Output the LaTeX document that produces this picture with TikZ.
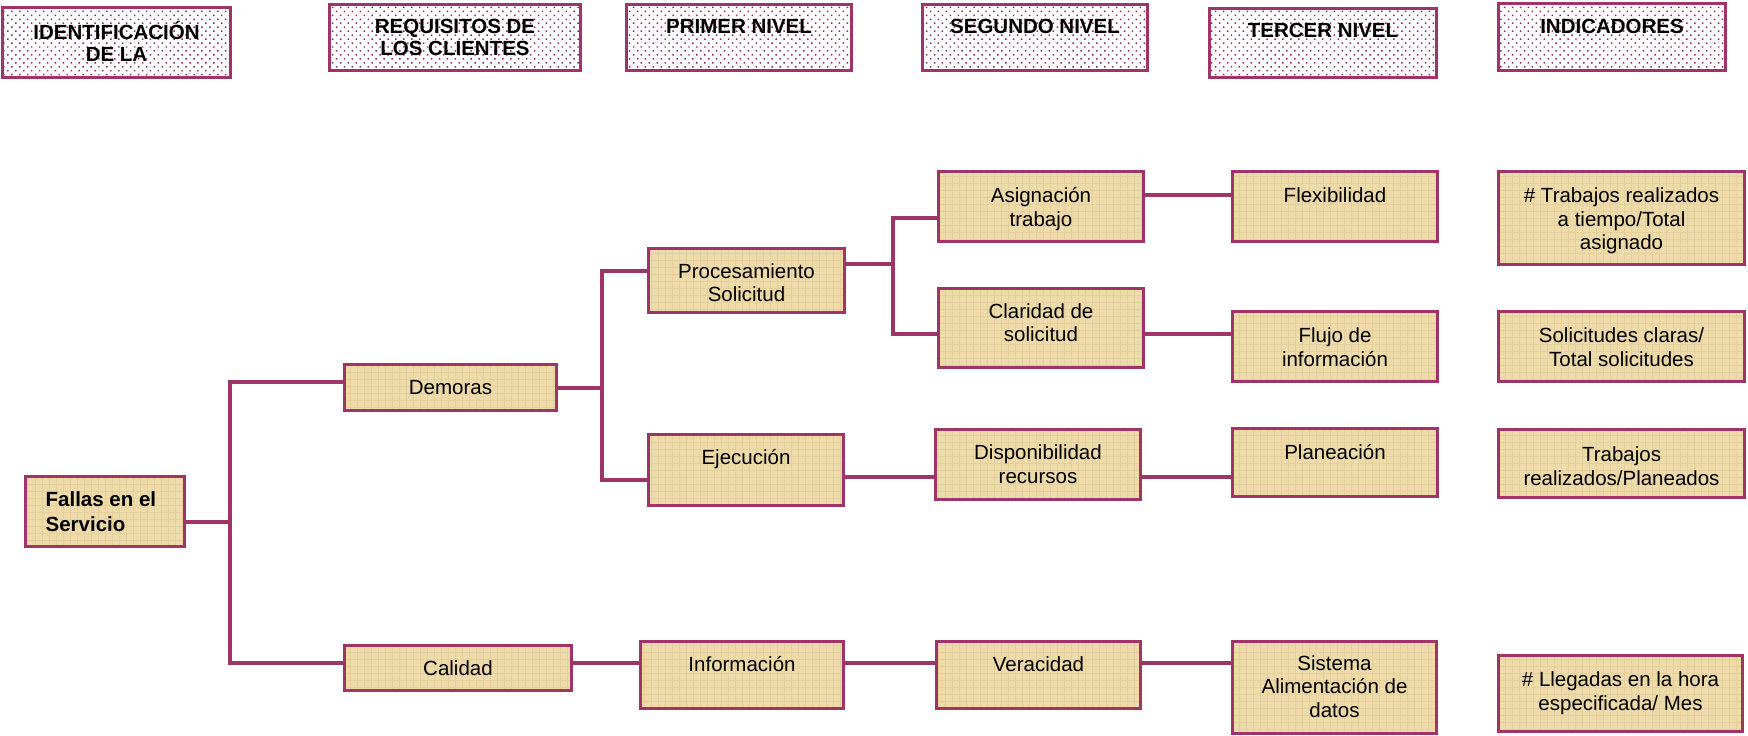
\documentclass[tikz,border=0pt]{standalone}
\usepackage{fontspec}
\setmainfont{Liberation Sans}
\usetikzlibrary{patterns.meta}

\definecolor{rim}{RGB}{158,52,104}
\definecolor{papyrus}{RGB}{237,219,170}
\definecolor{papyrusdark}{RGB}{229,208,156}
\definecolor{dotred}{RGB}{150,42,78}

\tikzset{
  cellbase/.style={draw=rim, line width=3.3pt, inner sep=0pt, outer sep=0pt},
  body/.style={cellbase, preaction={fill=papyrus},
    pattern={Hatch[distance=7pt, angle=0, line width=0.5pt]}, pattern color=papyrusdark,
    font=\fontsize{20.5}{23.5}\selectfont},
  lead/.style={body, font=\bfseries\fontsize{20.5}{25}\selectfont},
  head/.style={cellbase, preaction={fill=white},
    pattern={Dots[distance=5.6pt, angle=45, radius=1.05pt]}, pattern color=dotred,
    font=\bfseries\fontsize{20.5}{22}\selectfont},
  conn/.style={draw=rim, line width=3.3pt},
}

% #1 name, #2 style, #3/#4 outer top-left, #5/#6 outer bottom-right, #7 content
\newcommand\cellnode[7]{%
  \node[#2, anchor=north west] (#1) at ({#3+1.65},{#4+1.65})
    {\parbox[c][\dimexpr #6pt-#4pt-3.3pt\relax][t]{\dimexpr #5pt-#3pt-3.3pt\relax}{#7}};}
% first line raised to a given baseline offset
\newcommand\firstline[1]{\rule{0pt}{#1pt}}

\begin{document}
\begin{tikzpicture}[x=1pt, y=-1pt]
\useasboundingbox (0,0) rectangle (1748,736);

% column headers
\cellnode{hd1}{head}{1}{6}{232}{79}{\centering\firstline{32}IDENTIFICACIÓN\\DE LA}
\cellnode{hd2}{head}{328}{3}{582}{72}{\centering\firstline{28.5}REQUISITOS DE\\LOS CLIENTES}
\cellnode{hd3}{head}{625}{3}{853}{72}{\centering\firstline{28.5}PRIMER NIVEL}
\cellnode{hd4}{head}{921}{3}{1149}{72}{\centering\firstline{28.5}SEGUNDO NIVEL}
\cellnode{hd5}{head}{1208}{7}{1438}{79}{\centering\firstline{28.5}TERCER NIVEL}
\cellnode{hd6}{head}{1497}{2}{1727}{72}{\centering\firstline{29.5}INDICADORES}

% root
\cellnode{fallas}{lead}{24}{475}{186}{548}{\raggedright\leftskip=20pt\firstline{29.5}Fallas en el\\Servicio}

% customer requirements
\cellnode{dem}{body}{343}{363}{558}{412}{\centering\firstline{30.3}Demoras}
\cellnode{cal}{body}{343}{644}{573}{692}{\centering\firstline{29.5}Calidad}

% first level
\cellnode{proc}{body}{647}{247}{846}{314}{\centering\firstline{29.5}Procesamiento\\Solicitud}
\cellnode{ejec}{body}{647}{433}{845}{507}{\centering\firstline{29.5}Ejecución}
\cellnode{info}{body}{639}{640}{845}{710}{\centering\firstline{29.5}Información}

% second level
\cellnode{asig}{body}{937}{170}{1145}{243}{\centering\firstline{31.3}Asignación\\trabajo}
\cellnode{clar}{body}{937}{287}{1145}{369}{\centering\firstline{29.5}Claridad de\\solicitud}
\cellnode{disp}{body}{934}{428}{1142}{501}{\centering\firstline{30.3}Disponibilidad\\recursos}
\cellnode{verac}{body}{935}{640}{1142}{710}{\centering\firstline{29.5}Veracidad}

% third level
\cellnode{flex}{body}{1231}{170}{1439}{243}{\centering\firstline{31.3}Flexibilidad}
\cellnode{flujo}{body}{1231}{310}{1439}{383}{\centering\firstline{31.3}Flujo de\\información}
\cellnode{plan}{body}{1231}{427}{1439}{498}{\centering\firstline{31.3}Planeación}
\cellnode{sist}{body}{1231}{640}{1438}{735}{\centering\firstline{28.5}Sistema\\Alimentación de\\datos}

% indicators
\cellnode{ind1}{body}{1497}{170}{1746}{266}{\centering\firstline{31.3}\# Trabajos realizados\\a tiempo/Total\\asignado}
\cellnode{ind2}{body}{1497}{310}{1746}{383}{\centering\firstline{31.3}Solicitudes claras/\\Total solicitudes}
\cellnode{ind3}{body}{1497}{428}{1746}{499}{\centering\firstline{32.3}Trabajos\\realizados/Planeados}
\cellnode{ind4}{body}{1497}{654}{1744}{733}{\centering\firstline{31.3}\# Llegadas en la hora\\especificada/ Mes}

% bus from the root
\coordinate (a0) at (230,522);
\coordinate (a1) at (230,382);
\coordinate (a2) at (230,663);
\draw[conn] (fallas.east |- a0) -- (a0);
\draw[conn] (dem.west |- a1) -- (a1) -- (a2) -- (cal.west |- a2);

% bus from Demoras
\coordinate (b0) at (602,388);
\coordinate (b1) at (602,271);
\coordinate (b2) at (602,480);
\draw[conn] (dem.east |- b0) -- (b0);
\draw[conn] (proc.west |- b1) -- (b1) -- (b2) -- (ejec.west |- b2);

% bus from Procesamiento
\coordinate (c0) at (893,264);
\coordinate (c1) at (893,218);
\coordinate (c2) at (893,334);
\draw[conn] (proc.east |- c0) -- (c0);
\draw[conn] (asig.west |- c1) -- (c1) -- (c2) -- (clar.west |- c2);

% straight links
\coordinate (r1) at (0,195);
\coordinate (r2) at (0,334);
\coordinate (r3) at (0,477);
\coordinate (r4) at (0,663);
\draw[conn] (asig.east |- r1) -- (flex.west |- r1);
\draw[conn] (clar.east |- r2) -- (flujo.west |- r2);
\draw[conn] (ejec.east |- r3) -- (disp.west |- r3);
\draw[conn] (disp.east |- r3) -- (plan.west |- r3);
\draw[conn] (cal.east |- r4) -- (info.west |- r4);
\draw[conn] (info.east |- r4) -- (verac.west |- r4);
\draw[conn] (verac.east |- r4) -- (sist.west |- r4);
\end{tikzpicture}
\end{document}
